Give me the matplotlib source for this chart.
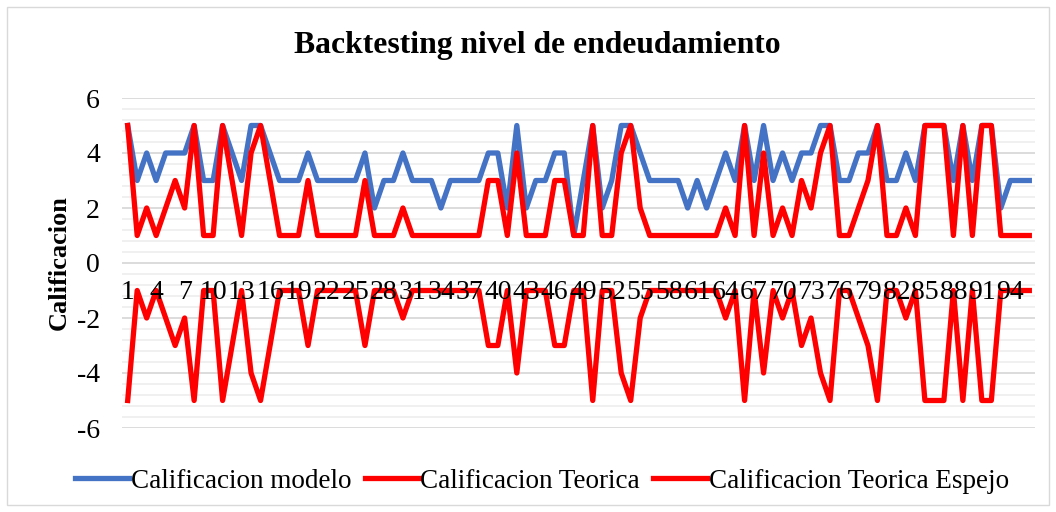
import numpy as np
import matplotlib
matplotlib.use("AGG")
import matplotlib.pyplot as plt
from matplotlib.ticker import MultipleLocator
from matplotlib.patches import Rectangle

plt.rcParams['font.family'] = ['Liberation Serif', 'DejaVu Serif']
plt.rcParams['axes.unicode_minus'] = False

calif_modelo = [5, 3, 4, 3, 4, 4, 4, 5, 3, 3, 5, 4, 3, 5, 5, 4, 3, 3, 3, 4,
                3, 3, 3, 3, 3, 4, 2, 3, 3, 4, 3, 3, 3, 2, 3, 3, 3, 3, 4, 4,
                2, 5, 2, 3, 3, 4, 4, 1, 3, 5, 2, 3, 5, 5, 4, 3, 3, 3, 3, 2,
                3, 2, 3, 4, 3, 5, 3, 5, 3, 4, 3, 4, 4, 5, 5, 3, 3, 4, 4, 5,
                3, 3, 4, 3, 5, 5, 5, 3, 5, 3, 5, 5, 2, 3, 3, 3]
calif_teorica = [5, 1, 2, 1, 2, 3, 2, 5, 1, 1, 5, 3, 1, 4, 5, 3, 1, 1, 1, 3,
                 1, 1, 1, 1, 1, 3, 1, 1, 1, 2, 1, 1, 1, 1, 1, 1, 1, 1, 3, 3,
                 1, 4, 1, 1, 1, 3, 3, 1, 1, 5, 1, 1, 4, 5, 2, 1, 1, 1, 1, 1,
                 1, 1, 1, 2, 1, 5, 1, 4, 1, 2, 1, 3, 2, 4, 5, 1, 1, 2, 3, 5,
                 1, 1, 2, 1, 5, 5, 5, 1, 5, 1, 5, 5, 1, 1, 1, 1]
calif_espejo = [-v for v in calif_teorica]
periodos = np.arange(1, len(calif_modelo) + 1)

fig = plt.figure(figsize=(10.56, 5.12), dpi=100)
ax = fig.add_axes([122/1056, 84/512, 913/1056, 330/512])

lw = 3.8
ax.plot(periodos, calif_modelo, color='#4472C4', lw=lw, solid_joinstyle='round',
        label='Calificacion modelo', clip_on=False, zorder=3)
ax.plot(periodos, calif_teorica, color='#FF0000', lw=lw, solid_joinstyle='round',
        label='Calificacion Teorica', clip_on=False, zorder=4)
ax.plot(periodos, calif_espejo, color='#FF0000', lw=lw, solid_joinstyle='round',
        label='Calificacion Teorica Espejo', clip_on=False, zorder=5)

ax.set_ylim(-6, 6)
ax.set_xlim(0.4, 96.6)
ax.yaxis.set_major_locator(MultipleLocator(2))
ax.yaxis.set_minor_locator(MultipleLocator(0.4))
ax.grid(which='major', axis='y', color='#D9D9D9', lw=1.3, zorder=0)
ax.grid(which='minor', axis='y', color='#EFEFEF', lw=1.3, zorder=0)
ax.set_xticks(periodos[::3])
ax.set_xticklabels([str(p) for p in periodos[::3]])
ax.spines['bottom'].set_position(('data', 0))
ax.xaxis.set_zorder(6)
for s in ax.spines.values():
    s.set_visible(False)
ax.tick_params(axis='both', which='both', length=0, labelsize=20)
ax.tick_params(axis='x', pad=12)
ax.tick_params(axis='y', pad=16)
ax.set_ylabel('Calificacion', fontsize=19, fontweight='bold', labelpad=4)

fig.text(537/1056, 1 - 46/512, 'Backtesting nivel de endeudamiento',
         ha='center', va='center', fontsize=22.8, fontweight='bold')

fig.legend(loc='center', bbox_to_anchor=(542/1056, 1 - 481/512), ncol=3,
           frameon=False, fontsize=19.5, handlelength=2.0, handletextpad=0.05,
           columnspacing=0.5)

fig.patches.append(Rectangle((7/1056, 7/512), 1042/1056, 498/512, fill=False,
                             edgecolor='#D9D9D9', lw=1, transform=fig.transFigure))

plt.savefig('out.png', dpi=100)
